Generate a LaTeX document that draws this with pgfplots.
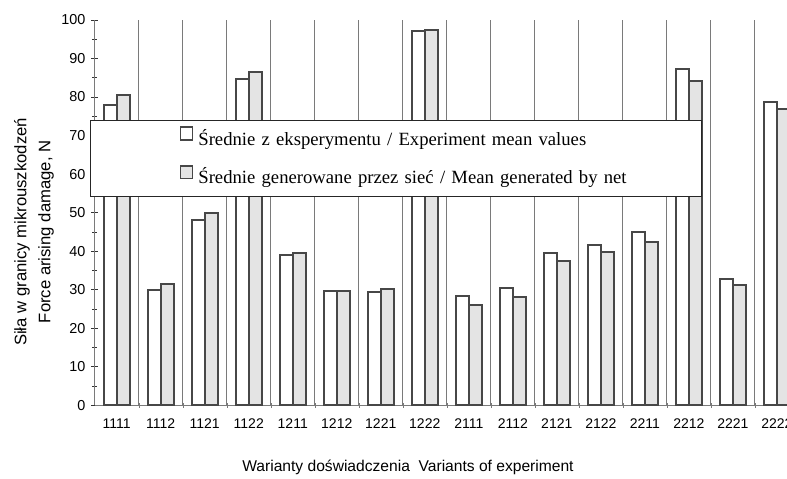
\documentclass[border=0pt]{standalone}
\usepackage{fontspec}
\setmainfont{Liberation Sans}
\newfontfamily\legfont{Liberation Serif}
\usepackage{pgfplots}
\usepackage{pgfplotstable}
\pgfplotsset{compat=1.18}

\definecolor{barline}{HTML}{474747}
\definecolor{netfill}{HTML}{E4E4E4}
\definecolor{gridc}{HTML}{7A7A7A}

% idx: variant 1111 ... 2222
\pgfplotstableread{
idx exp  net
0   77.9 80.5
1   30.0 31.5
2   48.0 49.8
3   84.7 86.5
4   39.0 39.6
5   29.6 29.6
6   29.4 30.1
7   97.1 97.3
8   28.4 26.0
9   30.3 28.1
10  39.5 37.5
11  41.7 39.8
12  45.0 42.4
13  87.2 84.1
14  32.8 31.1
15  78.8 76.9
}\means

\begin{document}
\begin{tikzpicture}
\begin{axis}[
  scale only axis, width=519pt, height=288.75pt,
  xmin=-0.5, xmax=15.23, ymin=0, ymax=100,
  axis lines=left, axis line style={-, draw=gridc, line width=0.6pt},
  ybar=0pt, bar width=0.295,
  xtick={0,...,15},
  xticklabels={1111,1112,1121,1122,1211,1212,1221,1222,2111,2112,2121,2122,2211,2212,2221,2222},
  minor xtick={0.5,1.5,...,14.5},
  xminorgrids, minor x grid style={draw=gridc, line width=0.6pt},
  major x tick style={draw=none},
  minor x tick style={draw=gridc},
  ytick={0,10,...,100}, minor ytick={5,15,...,95},
  tick align=center, major tick length=5pt, minor tick length=4pt,
  y tick style={draw=black!80, line width=0.5pt},
  /pgf/number format/assume math mode=true,
  yticklabel style={font=\fontsize{10.8}{12}\selectfont, xshift=-1pt},
  xticklabel style={font=\fontsize{10.5}{12}\selectfont, yshift=-4pt},
  xlabel={Warianty doświadczenia~ Variants of experiment},
  xlabel style={font=\fontsize{11.7}{14}\selectfont, at={(axis description cs:0.4525,0)}, anchor=base, yshift=-50pt},
  ylabel={Siła w granicy mikrouszkodzeń\\Force arising damage, N},
  ylabel style={font=\fontsize{12.5}{18}\selectfont, align=center, at={(axis description cs:-0.0877,0.45)}, anchor=center},
  legend style={at={(axis cs:-0.607,74)}, anchor=north west, draw=black!85, line width=0.5pt,
    fill=white, inner sep=0pt, row sep=0.8pt, font=\legfont\fontsize{14}{16}\selectfont,
    nodes={inner sep=0pt, inner xsep=3pt, text height=18.5pt, text depth=9.6pt, text width=374pt, align=left}},
  legend cell align=left,
  legend image code/.code={\path[draw=none, fill=none] (0pt,0pt) -- (78pt,0pt); \draw[#1, line width=1.2pt] (67.5pt,-0.5pt) rectangle (76.5pt,9pt);},
]
\addplot[draw=barline, fill=white, line width=1.5pt] table[x=idx, y=exp]{\means};
\addlegendentry{Średnie z eksperymentu / Experiment mean values}
\addplot[draw=barline, fill=netfill, line width=1.5pt] table[x=idx, y=net]{\means};
\addlegendentry{Średnie generowane przez sieć / Mean generated by net}
\coordinate (bl) at (rel axis cs:0,0);
\coordinate (tr) at (rel axis cs:1,1);
\end{axis}
\pgfresetboundingbox
\path[use as bounding box] ([xshift=-71pt,yshift=-54.75pt]bl) rectangle ([yshift=15pt]tr);
\end{tikzpicture}
\end{document}
